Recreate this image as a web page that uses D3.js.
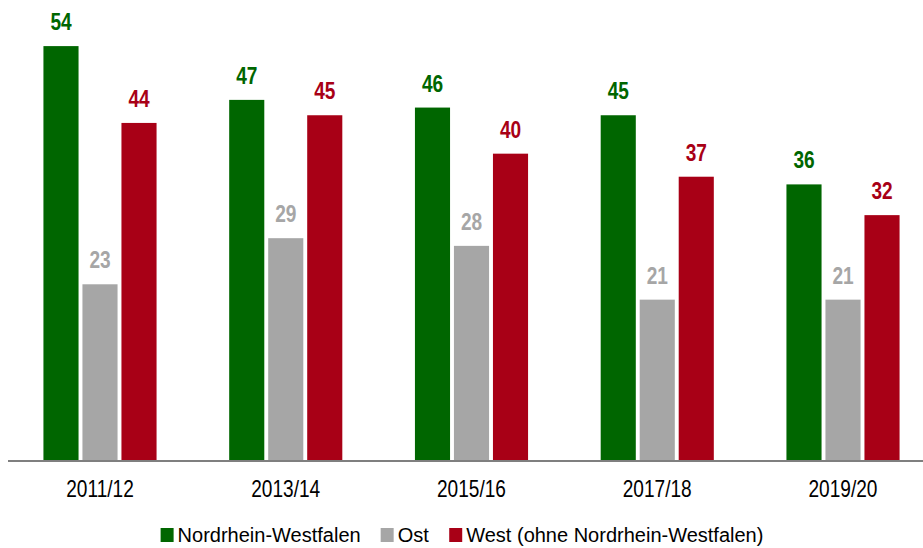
<!DOCTYPE html>
<meta charset="utf-8">
<script src="https://d3js.org/d3.v7.min.js"></script>
<style>
  body { margin: 0; background: #fff; }
  svg text { font-family: "Liberation Sans", Arial, sans-serif; }
</style>
<div id="chart"></div>
<script>
  // data
  const years = ["2011/12", "2013/14", "2015/16", "2017/18", "2019/20"];
  const series = ["Nordrhein-Westfalen", "Ost", "West (ohne Nordrhein-Westfalen)"];
  const nrw  = [54, 47, 46, 45, 36];
  const ost  = [23, 29, 28, 21, 21];
  const west = [44, 45, 40, 37, 32];
  const colors = ["#006600", "#a6a6a6", "#a80016"];

  const width = 923, height = 548;
  const baseY = 461;
  const narrow = 0.83; // no narrow font installed, squeeze horizontally

  const svg = d3.select("#chart")
    .append("svg")
    .attr("width", width)
    .attr("height", height);

  const rows = years.map((y, i) => ({ year: y, values: [nrw[i], ost[i], west[i]] }));

  const x0 = d3.scaleBand()
    .domain(years)
    .range([10, 933])
    .paddingInner(0.391)
    .paddingOuter(0.18);

  const x1 = d3.scaleBand()
    .domain(series)
    .range([0, x0.bandwidth()])
    .paddingInner(0.1);

  const y = d3.scaleLinear()
    .domain([0, 60])
    .range([baseY, 0]);

  const groups = svg.append("g")
    .selectAll("g")
    .data(rows)
    .join("g")
    .attr("transform", d => `translate(${x0(d.year)},0)`);

  groups.selectAll("rect")
    .data(d => d.values.map((v, k) => ({ key: series[k], v: v, c: colors[k] })))
    .join("rect")
    .attr("x", d => x1(d.key))
    .attr("y", d => y(d.v))
    .attr("width", x1.bandwidth())
    .attr("height", d => baseY - y(d.v))
    .attr("fill", d => d.c);

  groups.selectAll("text")
    .data(d => d.values.map((v, k) => ({ key: series[k], v: v, c: colors[k] })))
    .join("text")
    .attr("transform", d => `translate(${x1(d.key) + x1.bandwidth() / 2},${y(d.v) - 16}) scale(${narrow},1)`)
    .attr("text-anchor", "middle")
    .attr("font-size", 23)
    .attr("font-weight", "bold")
    .attr("fill", d => d.c)
    .text(d => d.v);

  // x axis
  const ax = svg.append("g")
    .attr("transform", `translate(0,${baseY})`)
    .call(d3.axisBottom(x0).tickSize(0).tickSizeOuter(0).tickPadding(20));
  ax.select(".domain")
    .attr("d", `M8,0H${width}`)
    .attr("stroke", "#7f7f7f")
    .attr("stroke-width", 2);
  ax.selectAll("text")
    .attr("font-size", 23)
    .attr("fill", "#000")
    .attr("transform", `scale(${narrow},1)`)
    .style("font-family", "'Liberation Sans', Arial, sans-serif");

  // legend
  const legend = svg.append("g").attr("transform", "translate(0,542)");
  const items = legend.selectAll("g")
    .data(series)
    .join("g");
  items.append("rect")
    .attr("y", -14)
    .attr("width", 13)
    .attr("height", 14)
    .attr("fill", (d, i) => colors[i]);
  items.append("text")
    .attr("x", 17)
    .attr("font-size", 20)
    .attr("fill", "#000")
    .text(d => d);
  let pos = 0;
  const offs = [];
  items.each(function () {
    offs.push(pos);
    pos += this.getBBox().width + 20;
  });
  const total = pos - 20;
  const start = 462 - total / 2;
  items.attr("transform", (d, i) => `translate(${start + offs[i]},0)`);
</script>
